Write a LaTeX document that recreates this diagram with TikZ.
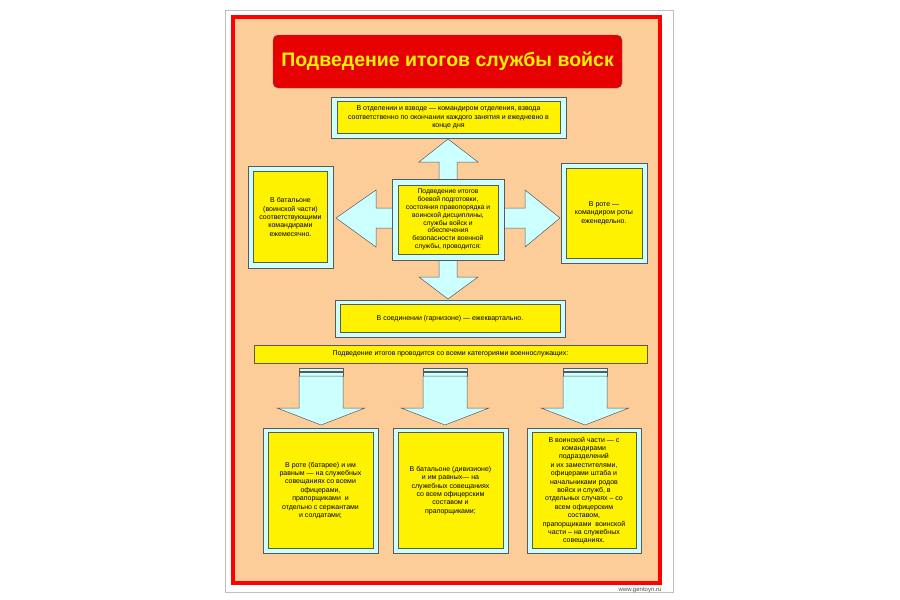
\documentclass[tikz,border=0pt]{standalone}
\usepackage{fontspec}
\setmainfont{Liberation Sans}
\begin{document}
\begin{tikzpicture}[x=1pt,y=-1pt,
  outer/.style={draw=gray!70!black, fill={rgb,255:red,204;green,255;blue,255}, line width=0.5pt, inner sep=0},
  inner/.style={draw=gray!70!black, fill=yellow, line width=0.5pt, align=center, font=\fontsize{7}{8.4}\selectfont, inner sep=1pt},
  arr/.style={draw=gray!70!black, fill={rgb,255:red,204;green,255;blue,255}, line width=0.5pt, line join=miter}]
\useasboundingbox (0,0) rectangle (900,600);
\fill[white] (0,0) rectangle (900,600);
\draw[gray!50] (225,10) rectangle (673,592);
\draw[red, line width=4pt, fill={rgb,255:red,252;green,204;blue,153}] (233,17) rectangle (660,583);
\node[draw=black!60, fill={rgb,255:red,230;green,0;blue,0}, rounded corners=5pt, minimum width=349pt, minimum height=53pt, font=\bfseries\fontsize{19.5}{22}\selectfont, text=yellow] (title) at (447.5,61.5) {Подведение итогов службы войск};
% center cross arrows
\draw[arr] (439,180) -- (439,162) -- (419,162) -- (448,139) -- (478,162) -- (457,162) -- (457,180);
\draw[arr] (439,259) -- (439,277) -- (419,277) -- (448,299) -- (478,277) -- (457,277) -- (457,259);
\draw[arr] (393,208) -- (376,208) -- (376,190) -- (336,218) -- (376,247) -- (376,228) -- (393,228);
\draw[arr] (503,208) -- (525,208) -- (525,190) -- (560,218) -- (525,247) -- (525,228) -- (503,228);
% boxes
\node[outer, minimum width=235pt, minimum height=41pt] (topo) at (448.5,117.5) {};
\node[inner, minimum width=223pt, minimum height=32pt] (top) at (topo) {В отделении и взводе — командиром отделения, взвода\\ соответственно по окончании каждого занятия и ежедневно в\\ конце дня};
\node[outer, minimum width=112pt, minimum height=81pt] (cento) at (448,219.5) {};
\node[inner, minimum width=100pt, minimum height=69pt, font=\fontsize{6.8}{7.9}\selectfont] (cent) at (cento) {Подведение итогов\\ боевой подготовки,\\ состояния правопорядка и\\ воинской дисциплины,\\ службы войск и\\ обеспечения\\ безопасности военной\\ службы, проводится:};
\node[outer, minimum width=85pt, minimum height=102pt] (lefto) at (290.5,217) {};
\node[inner, minimum width=74pt, minimum height=91pt] (left) at (lefto) {В батальоне\\ (воинской части)\\ соответствующими\\ командирами\\ ежемесячно.};
\node[outer, minimum width=86pt, minimum height=100pt] (righto) at (604,213) {};
\node[inner, minimum width=76pt, minimum height=90pt] (right) at (righto) {В роте —\\ командиром роты\\ еженедельно.};
\node[outer, minimum width=230pt, minimum height=37pt] (soedo) at (450,318.5) {};
\node[inner, minimum width=220pt, minimum height=28pt] (soed) at (soedo) {В соединении (гарнизоне) — ежеквартально.};
\node[inner, minimum width=393pt, minimum height=18pt] (bar) at (450.5,354) {Подведение итогов проводится со всеми категориями военнослужащих:};
% down arrows
\foreach \c/\n in {321/a,445/b,585/c}{
  \draw[arr] (\c-22,368) rectangle (\c+22,371);
  \draw[arr] (\c-22,372) rectangle (\c+22,376);
  \draw[arr] (\c-22,376) -- (\c-22,408) -- (\c-44,408) -- (\c,425) -- (\c+44,408) -- (\c+22,408) -- (\c+22,376) -- cycle;
}
\node[outer, minimum width=115pt, minimum height=125pt] (b1o) at (320.5,490.5) {};
\node[inner, minimum width=105pt, minimum height=116pt] (b1) at (b1o) {В роте (батарее) и им\\ равным — на служебных\\ совещаниях со всеми\\ офицерами,\\ прапорщиками~~и\\ отдельно с сержантами\\ и солдатами;};
\node[outer, minimum width=115pt, minimum height=125pt] (b2o) at (450.5,490.5) {};
\node[inner, minimum width=105pt, minimum height=116pt] (b2) at (b2o) {В батальоне (дивизионе)\\ и им равных— на\\ служебных совещаниях\\ со всем офицерским\\ составом и\\ прапорщиками;};
\node[outer, minimum width=114pt, minimum height=125pt] (b3o) at (584,490.5) {};
\node[inner, minimum width=104pt, minimum height=116pt] (b3) at (b3o) {В воинской части — с\\ командирами\\ подразделений\\ и их заместителями,\\ офицерами штаба и\\ начальниками родов\\ войск и служб, в\\ отдельных случаях – со\\ всем офицерским\\ составом,\\ прапорщиками~~воинской\\ части – на служебных\\ совещаниях.};
\node[font=\fontsize{6}{6}\selectfont, text=black!70] (site) at (640,590) {www.gentoyn.ru};
\end{tikzpicture}
\end{document}
